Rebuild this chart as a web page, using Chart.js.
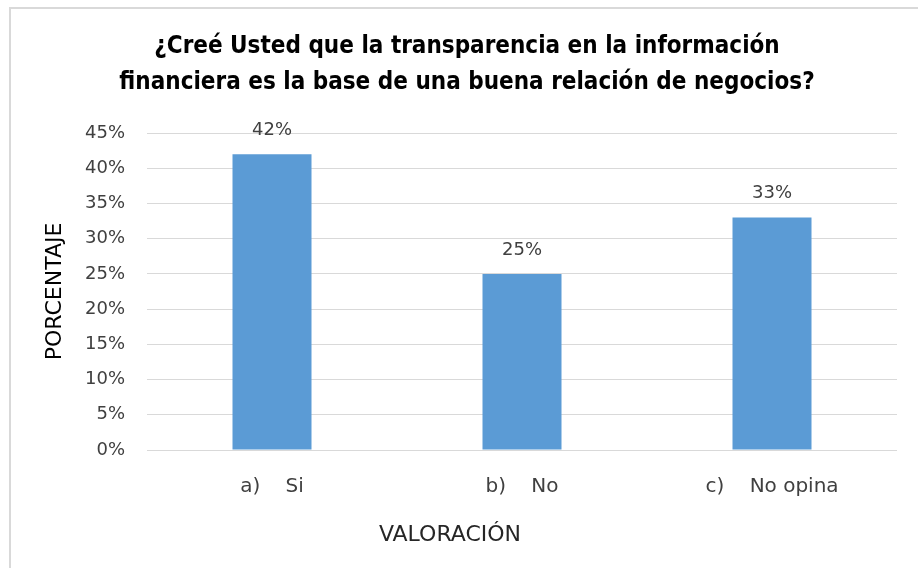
<!DOCTYPE html>
<html>
<head>
<meta charset="utf-8">
<script src="https://cdn.jsdelivr.net/npm/chart.js@4"></script>
<style>
    html, body { margin: 0; padding: 0; background: #fff; overflow: hidden; }
    .wrap { position: relative; width: 918px; height: 568px; }
    .frame { position: absolute; left: 9px; top: 7px; width: 940px; height: 600px; border: 2px solid #d9d9d9; box-sizing: border-box; }
    canvas { position: absolute; left: 0; top: 0; }
</style>
</head>
<body>
<div class="wrap">
    <div class="frame"></div>
    <canvas id="chart" width="918" height="568"></canvas>
</div>
<script>
// datos del gráfico
const categories = ['a)    Si', 'b)    No', 'c)    No opina'];
const porcentajes = [42, 25, 33];
const yTicks = [0, 5, 10, 15, 20, 25, 30, 35, 40, 45];
const titleLines = ['¿Creé Usted que la transparencia en la información', 'financiera es la base de una buena relación de negocios?'];
const xTitle = 'VALORACIÓN';

const narrow = '"Liberation Sans Narrow", "Arial Narrow", "DejaVu Sans Condensed", sans-serif';
const wide = '"DejaVu Sans", sans-serif';

// etiquetas de datos encima de cada barra + título del eje X (no centrado en el área)
const barLabels = {
    id: 'barLabels',
    afterDatasetsDraw(chart) {
        const ctx = chart.ctx;
        const meta = chart.getDatasetMeta(0);
        ctx.save();
        ctx.font = '18px ' + wide;
        ctx.fillStyle = '#404040';
        ctx.textAlign = 'center';
        ctx.textBaseline = 'middle';
        meta.data.forEach((bar, i) => {
            ctx.fillText(porcentajes[i] + '%', bar.x, bar.y - 24);
        });
        // título eje X
        ctx.font = '22px ' + wide;
        ctx.fillStyle = '#262626';
        const xs = chart.scales.x;
        ctx.fillText(xTitle, xs.left + (xs.right - xs.left) * 0.404, xs.top + 85);
        ctx.restore();
    }
};

new Chart(document.getElementById('chart').getContext('2d'), {
    type: 'bar',
    data: {
        labels: categories,
        datasets: [{
            data: porcentajes,
            backgroundColor: '#5b9bd5',
            borderWidth: 0,
            barPercentage: 0.316,
            categoryPercentage: 1
        }]
    },
    options: {
        responsive: false,
        animation: false,
        layout: { padding: { left: 37, right: 21, top: 0, bottom: 0 } },
        plugins: {
            legend: { display: false },
            tooltip: { enabled: false },
            title: {
                display: true,
                text: titleLines,
                color: '#000',
                font: { family: narrow, size: 24, weight: 'bold', lineHeight: 1.5 },
                padding: { top: 29, bottom: 32 }
            }
        },
        scales: {
            x: {
                grid: { display: false, drawTicks: false },
                border: { display: false },
                ticks: { color: '#404040', font: { family: wide, size: 20 }, padding: 25 },
                afterFit: scale => { scale.height = 118; }
            },
            y: {
                min: 0,
                max: 45,
                afterBuildTicks: scale => { scale.ticks = yTicks.map(v => ({ value: v })); },
                grid: { color: '#d9d9d9', lineWidth: 1, drawTicks: false },
                border: { display: false },
                ticks: { color: '#404040', font: { family: wide, size: 18 }, padding: 22, callback: v => v + '%' },
                title: {
                    display: true,
                    text: 'PORCENTAJE',
                    color: '#000',
                    font: { family: wide, size: 22 },
                    padding: { top: 5 }
                },
                afterFit: scale => { scale.width = 110; }
            }
        }
    },
    plugins: [barLabels]
});
</script>
</body>
</html>
